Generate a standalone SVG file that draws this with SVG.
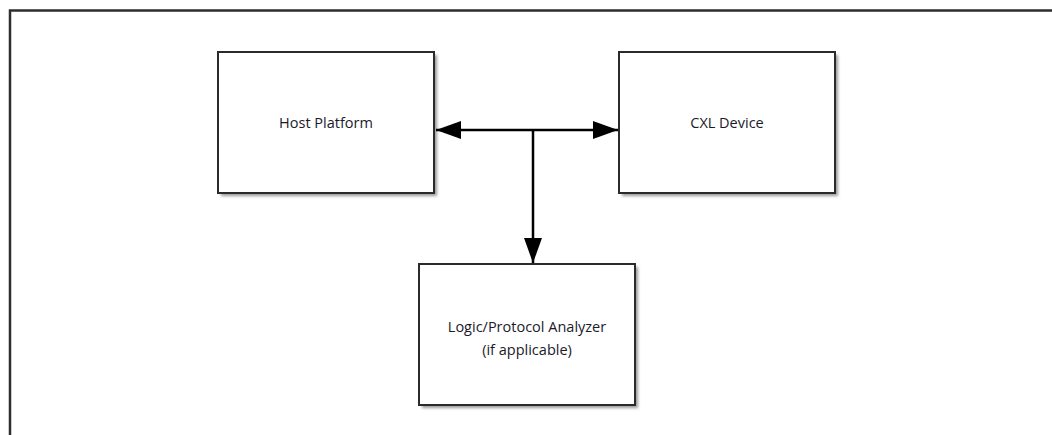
<svg xmlns="http://www.w3.org/2000/svg" width="1052" height="435" viewBox="0 0 1052 435">
  <style>
    .box { fill: #ffffff; stroke: #2b2b2b; stroke-width: 2; }
    .shadow { fill: #9a9a9a; filter: url(#blur); }
    .label { font-family: "Open Sans", "Liberation Sans", sans-serif; font-size: 14.5px; fill: #1a1a2a; text-anchor: middle; }
    .conn { stroke: #000000; stroke-width: 2.5; fill: none; }
    .frame { stroke: #2e2e2e; stroke-width: 2.5; fill: none; }
  </style>
  <defs>
    <filter id="blur" x="-10%" y="-10%" width="120%" height="120%">
      <feGaussianBlur stdDeviation="1.5"/>
    </filter>
    <marker id="arrow" markerUnits="userSpaceOnUse" markerWidth="26" markerHeight="20" refX="25" refY="9" orient="auto-start-reverse">
      <path d="M0,0 L25,9 L0,18 Z" fill="#000000"/>
    </marker>
  </defs>
  <rect width="1052" height="435" fill="#ffffff"/>
  <path class="frame" d="M10,435 L10,10.5 L1052,10.5"/>

  <g id="host-platform">
    <rect class="shadow" x="221" y="55" width="216" height="141"/>
    <rect class="box" x="218" y="52" width="216" height="141"/>
    <text class="label" x="326" y="128">Host Platform</text>
  </g>

  <g id="cxl-device">
    <rect class="shadow" x="622" y="55" width="216" height="141"/>
    <rect class="box" x="619" y="52" width="216" height="141"/>
    <text class="label" x="727" y="128">CXL Device</text>
  </g>

  <g id="analyzer">
    <rect class="shadow" x="422" y="267" width="216" height="141"/>
    <rect class="box" x="419" y="264" width="216" height="141"/>
    <text class="label" x="527" y="332">Logic/Protocol Analyzer</text>
    <text class="label" x="527" y="355">(if applicable)</text>
  </g>

  <g id="connectors">
    <path class="conn" d="M436,130 L618,130" marker-start="url(#arrow)" marker-end="url(#arrow)"/>
    <path class="conn" d="M533,130 L533,263" marker-end="url(#arrow)"/>
  </g>
</svg>
